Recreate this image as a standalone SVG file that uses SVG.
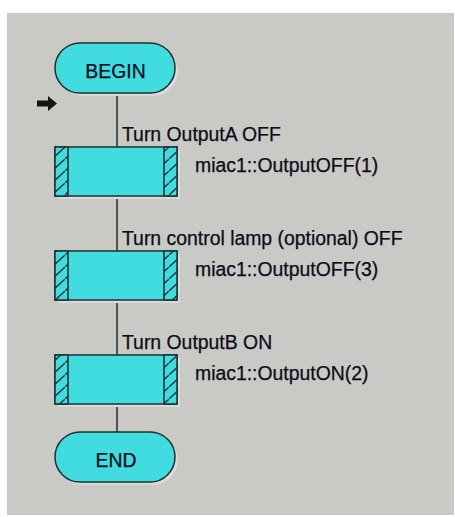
<svg xmlns="http://www.w3.org/2000/svg" width="455" height="517" viewBox="0 0 455 517">
  <style>
    .term { fill: #40dce0; stroke: #1e2f30; stroke-width: 1.5; }
    .proc { fill: #40dce0; stroke: #1e2f30; stroke-width: 1.5; }
    .band { fill: url(#hatch); stroke: #1e2f30; stroke-width: 1.5; }
    .shadow { fill: #dadad6; }
    .wire { stroke: #2a2a2a; stroke-width: 1.5; fill: none; }
    text { font-family: "Liberation Sans", Arial, sans-serif; font-size: 19.4px; fill: #0c0c18; stroke: #0c0c18; stroke-width: 0.25; }
    .c { text-anchor: middle; }
  </style>
  <defs>
    <pattern id="hatch" patternUnits="userSpaceOnUse" width="13" height="12" x="0" y="3">
      <rect width="13" height="12" fill="#40dce0"/>
      <path d="M0 12 L13 0" stroke="#1e2f30" stroke-width="1.3"/>
    </pattern>
  </defs>

  <!-- canvas -->
  <rect x="0" y="0" width="455" height="517" fill="#ffffff"/>
  <rect x="7" y="13" width="447" height="502" fill="#c9c9c5"/>

  <!-- flow line -->
  <g id="connectors">
    <line class="wire" x1="117" y1="93" x2="117" y2="432"/>
  </g>

  <!-- current-step pointer -->
  <path d="M37 100.5 H48 V96 L57 103.5 L48 111 V106.5 H37 Z" fill="#1a1410"/>

  <g id="begin">
    <rect class="shadow" x="58" y="46" width="120" height="50" rx="25"/>
    <rect class="term" x="55" y="43" width="120" height="50" rx="25"/>
    <text class="c" x="115.5" y="78">BEGIN</text>
  </g>

  <g id="step1">
    <rect class="shadow" x="58" y="150" width="122" height="49"/>
    <rect class="proc" x="55" y="147" width="122" height="49"/>
    <rect class="band" x="55" y="147" width="13" height="49"/>
    <rect class="band" x="164" y="147" width="13" height="49"/>
    <text x="122" y="141">Turn OutputA OFF</text>
    <text x="195" y="172">miac1::OutputOFF(1)</text>
  </g>

  <g id="step2">
    <rect class="shadow" x="58" y="254" width="122" height="49"/>
    <rect class="proc" x="55" y="251" width="122" height="49"/>
    <rect class="band" x="55" y="251" width="13" height="49"/>
    <rect class="band" x="164" y="251" width="13" height="49"/>
    <text x="122" y="245">Turn control lamp (optional) OFF</text>
    <text x="195" y="276">miac1::OutputOFF(3)</text>
  </g>

  <g id="step3">
    <rect class="shadow" x="58" y="358" width="122" height="49"/>
    <rect class="proc" x="55" y="355" width="122" height="49"/>
    <rect class="band" x="55" y="355" width="13" height="49"/>
    <rect class="band" x="164" y="355" width="13" height="49"/>
    <text x="122" y="349">Turn OutputB ON</text>
    <text x="195" y="380">miac1::OutputON(2)</text>
  </g>

  <g id="end">
    <rect class="shadow" x="58" y="435" width="120" height="50" rx="25"/>
    <rect class="term" x="55" y="432" width="120" height="50" rx="25"/>
    <text class="c" x="116" y="467">END</text>
  </g>
</svg>
